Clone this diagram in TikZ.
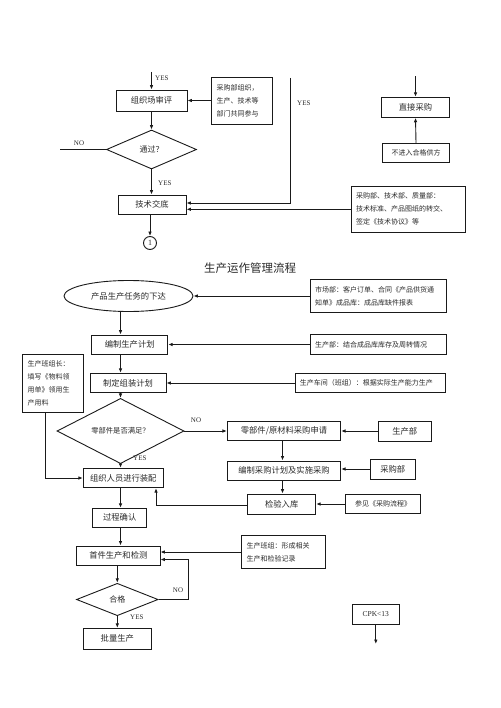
\documentclass[tikz,border=0pt]{standalone}
\usepackage{fontspec}
\setmainfont{Liberation Serif}
\newfontfamily\cjk{Noto Sans CJK SC}
\usetikzlibrary{arrows.meta,shapes.geometric}
\definecolor{ink}{HTML}{1A1A1A}
\definecolor{txt}{HTML}{2A2A2A}
\tikzset{
 base/.style={draw=ink, line width=0.9pt, inner sep=0pt, text=txt},
 pbox/.style={base, rectangle, font=\cjk\fontsize{8.3}{10}\selectfont},
 sbox/.style={base, rectangle, font=\cjk\fontsize{7}{9}\selectfont},
 note/.style={base, line width=0.75pt, rectangle, align=left, inner xsep=5pt, inner ysep=0pt, font=\cjk\fontsize{7}{13}\selectfont},
 dia/.style={base, diamond, font=\cjk\fontsize{8}{10}\selectfont},
 lab/.style={font=\fontsize{7}{8}\selectfont, text=txt, inner sep=0pt},
 arr/.style={draw=ink, line width=0.9pt, -{Latex[length=4.5pt,width=3.6pt]}},
 ln/.style={draw=ink, line width=0.9pt},
}
\begin{document}
\begin{tikzpicture}[x=1pt,y=-1pt]
\fill[white] (0,0) rectangle (500,708);
\useasboundingbox (0,0) rectangle (500,708);
% ---------- top section ----------
\coordinate (ax0) at (151.5,0);
\coordinate (t1) at (151.5,72);
\node[pbox, minimum width=71pt, minimum height=21pt] (rev) at (151.5,100.5) {组织场审评};
\node[note, minimum width=61pt, minimum height=47pt, text width=51pt] (rn) at (242,100.5) {采购部组织，\\生产、技术等\\部门共同参与};
\node[dia, minimum width=90pt, minimum height=39pt] (d1) at (151.5,149.5) {通过？};
\coordinate (noL) at (60,149.5);
\node[pbox, minimum width=68pt, minimum height=19pt] (tech) at (152,204.5) {技术交底};
\node[base, circle, minimum size=13pt, font=\fontsize{8}{9}\selectfont] (c1) at (150,243) {1};
\node[note, minimum width=114pt, minimum height=46pt, text width=104pt] (tn) at (408,209.3) {采购部、技术部、质量部：\\技术标准、产品图纸的转交、\\签定《技术协议》等};
\node[pbox, minimum width=68pt, minimum height=20pt] (dp) at (415.5,107.3) {直接采购};
\node[sbox, minimum width=67pt, minimum height=19.5pt] (nq) at (416,153) {不进入合格供方};
\coordinate (t3) at (415.5,76.5);
\coordinate (y2) at (290,78);
\coordinate (j1) at (290,203);

\draw[arr] (t1) -- (rev.north);
\node[lab, anchor=west] (lyes1) at (155,78) {YES};
\draw[arr] (rn.west) -- (rev.east);
\draw[arr] (rev.south) -- (d1.north);
\draw[ln] (d1.west) -- (noL);
\node[lab] (lno1) at (79,143) {NO};
\draw[arr] (d1.south) -- (d1.south |- tech.north);
\node[lab, anchor=west] (lyes2) at (158,183) {YES};
\draw[arr] (tech.south -| c1) -- (c1.north);
\draw[arr] (y2) -- (j1) -- (j1 -| tech.east);
\node[lab, anchor=west] (lyes3) at (297,103) {YES};
\draw[arr] (tn.west) -- (tn.west -| tech.east);
\draw[arr] (t3) -- (dp.north);
\draw[arr] (nq.north) -- (dp.south);

% ---------- title ----------
\node[font=\cjk\fontsize{11.5}{12}\selectfont, text=txt] (title) at (250,268) {生产运作管理流程};

% ---------- main flow ----------
\coordinate (ax) at (120.5,0);
\node[base, ellipse, minimum width=129pt, minimum height=31pt, font=\cjk\fontsize{8.3}{10}\selectfont] (ell) at (128.5,296) {产品生产任务的下达};
\node[note, minimum width=136pt, minimum height=33pt, text width=126pt] (mk) at (378,296) {市场部：客户订单、合同《产品供货通\\知单》成品库：成品库缺件报表};
\node[pbox, minimum width=76pt, minimum height=19pt] (pln) at (129.7,344.5) {编制生产计划};
\node[note, minimum width=136pt, minimum height=20pt, text width=126pt] (pn) at (378,344.5) {生产部：结合成品库库存及周转情况};
\node[pbox, minimum width=76pt, minimum height=19.4pt] (apl) at (128,383) {制定组装计划};
\node[note, minimum width=150.7pt, minimum height=19.4pt, text width=140.7pt] (ws) at (370.3,383) {生产车间（班组）：根据实际生产能力生产};
\node[note, minimum width=60.6pt, minimum height=58.7pt, text width=50.6pt] (gl) at (53,383.3) {生产班组长：\\填写《物料领\\用单》领用生\\产用料};
\node[dia, font=\cjk\fontsize{7.3}{9}\selectfont, minimum width=127pt, minimum height=50pt] (d2) at (120.5,431) {零部件是否满足？};
\node[pbox, minimum width=113.3pt, minimum height=19.3pt] (pr) at (284,431) {零部件/原材料采购申请};
\node[pbox, minimum width=52.7pt, minimum height=20pt] (pd) at (404.7,431) {生产部};
\node[pbox, minimum width=113.3pt, minimum height=19.7pt] (pp) at (284,470.8) {编制采购计划及实施采购};
\node[pbox, minimum width=45.7pt, minimum height=20pt] (cg) at (392.8,469) {采购部};
\node[pbox, minimum width=68pt, minimum height=20pt] (ins) at (281.7,504) {检验入库};
\node[sbox, minimum width=75pt, minimum height=19pt] (rf) at (383.2,504) {参见《采购流程》};
\node[pbox, minimum width=80pt, minimum height=19.4pt] (asm) at (123.3,478) {组织人员进行装配};
\node[pbox, minimum width=54pt, minimum height=19pt] (pc) at (119.7,517.8) {过程确认};
\node[pbox, minimum width=83.3pt, minimum height=19.7pt] (ff) at (118.3,555.8) {首件生产和检测};
\node[note, minimum width=83.3pt, minimum height=32.6pt, text width=73.3pt] (fn) at (283.3,552) {生产班组：形成相关\\生产和检验记录};
\node[dia, minimum width=81.6pt, minimum height=32.4pt] (d3) at (117.3,599.5) {合格};
\node[pbox, minimum width=67.7pt, minimum height=20.7pt] (bp) at (117.3,638.7) {批量生产};
\node[base, rectangle, font=\fontsize{7.5}{9}\selectfont, minimum width=46.3pt, minimum height=20pt] (cpk) at (375.8,614.3) {CPK<13};

\coordinate (ax2) at (282.5,0);
\coordinate (r1) at (156,505.5);
\coordinate (g2) at (45,478);
\coordinate (nl) at (188.3,559.5);
\coordinate (ce) at (375.8,644);

\draw[arr] (mk.west) -- (ell.east);
\draw[arr] (ell.south -| ax) -- (pln.north -| ax);
\draw[arr] (pn.west) -- (pln.east);
\draw[arr] (pln.south -| ax) -- (apl.north -| ax);
\draw[arr] (ws.west) -- (apl.east);
\draw[arr] (apl.south -| ax) -- (d2.north);
\draw[arr] (d2.east) -- (pr.west);
\node[lab] (lno2) at (196,420) {NO};
\draw[arr] (pd.west) -- (pr.east);
\draw[arr] (pr.south -| ax2) -- (pp.north -| ax2);
\draw[arr] (cg.west) -- (cg.west -| pp.east);
\draw[arr] (pp.south -| ax2) -- (ins.north -| ax2);
\draw[arr] (rf.west) -- (rf.west -| ins.east);
\draw[arr] (d2.south) -- (d2.south |- asm.north);
\node[lab, anchor=west] (lyes4) at (133,458) {YES};
\draw[arr] (ins.west |- r1) -- (r1) -- (r1 |- asm.south);
\draw[arr] (gl.south -| g2) -- (g2) -- (asm.west);
\draw[arr] (asm.south -| ax) -- (pc.north -| ax);
\draw[arr] (pc.south -| ax) -- (ff.north -| ax);
\draw[arr] (fn.west) -- (fn.west -| ff.east);
\draw[arr] (ff.south -| d3) -- (d3.north);
\draw[arr] (d3.east) -| (nl) -- (nl -| ff.east);
\node[lab] (lno3) at (178,590) {NO};
\node[lab, anchor=west] (lyes5) at (130,617) {YES};
\draw[arr] (d3.south) -- (bp.north);
\draw[arr] (cpk.south) -- (ce);
\end{tikzpicture}
\end{document}
